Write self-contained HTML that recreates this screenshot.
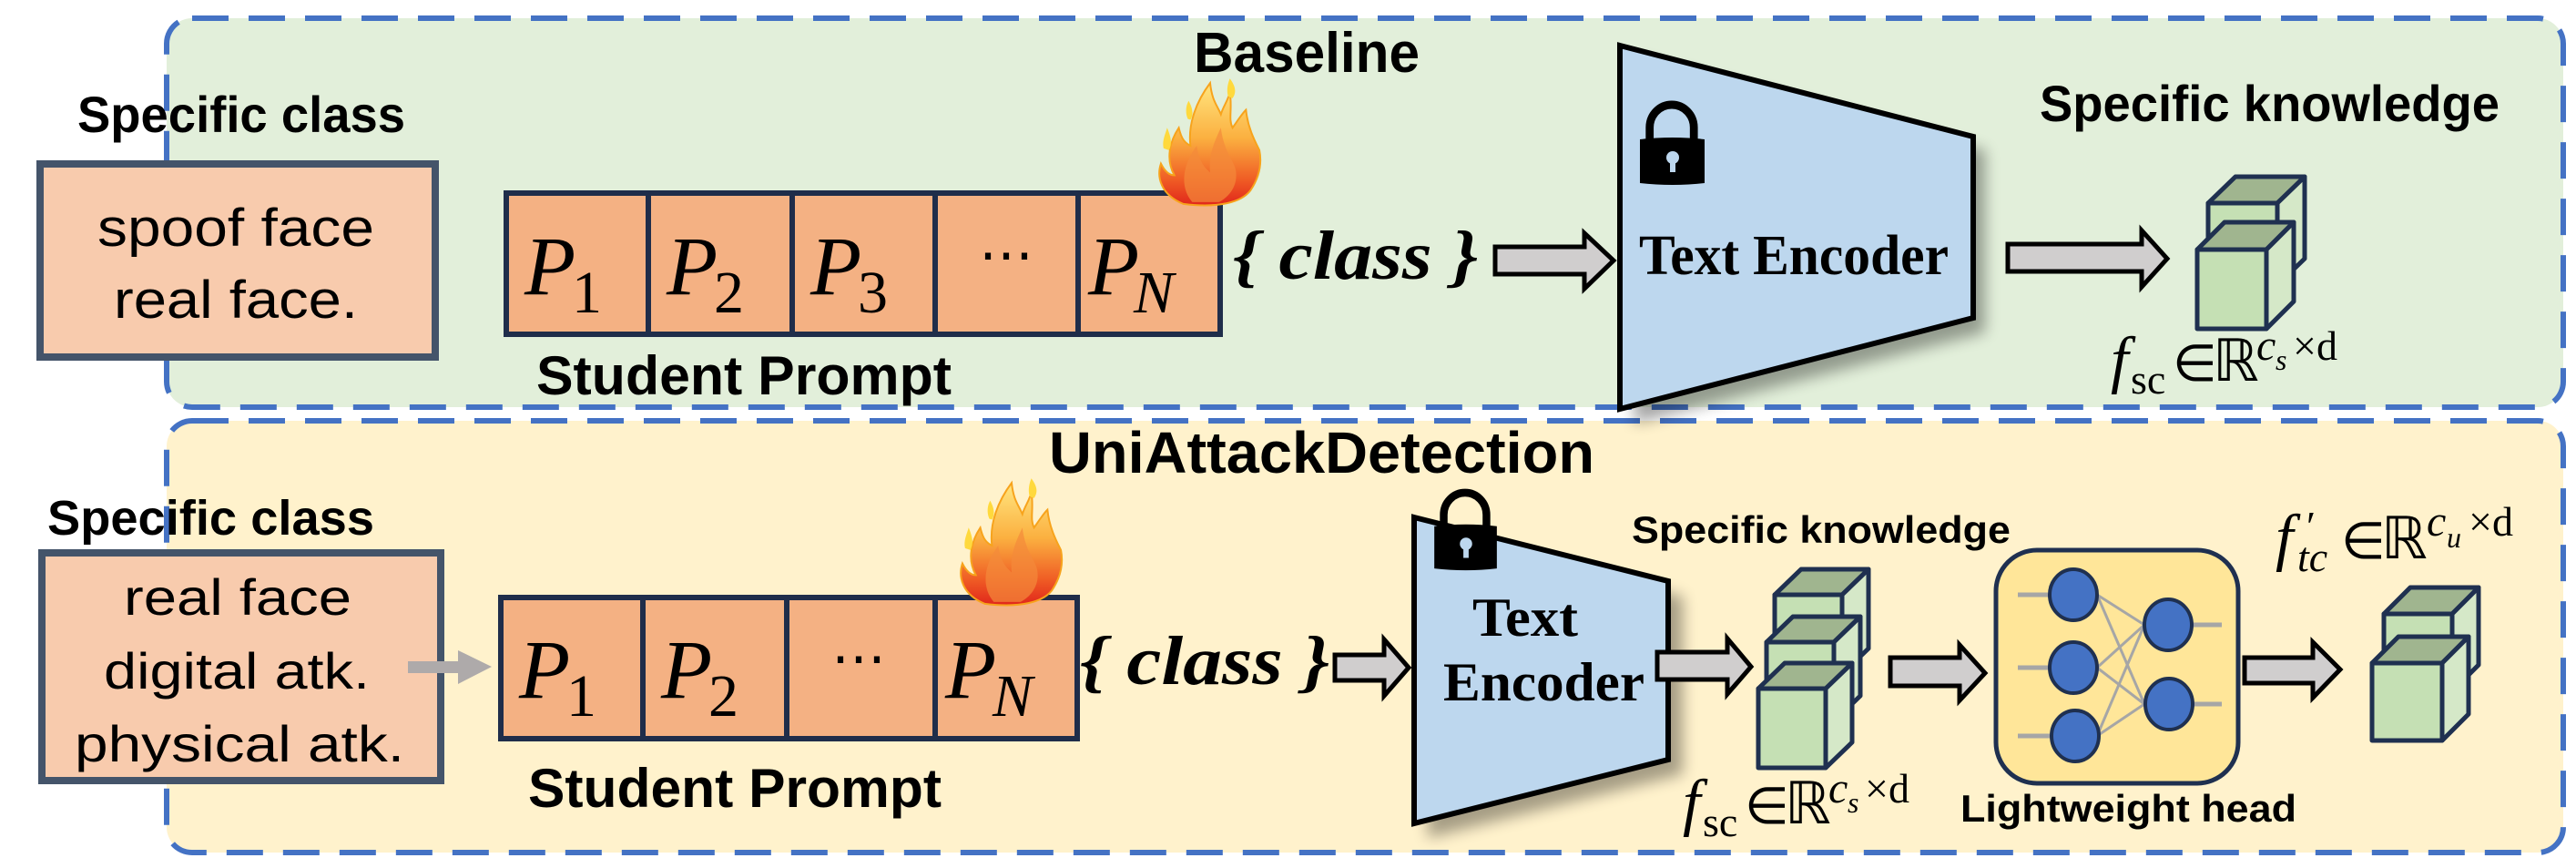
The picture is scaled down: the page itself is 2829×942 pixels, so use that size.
<!DOCTYPE html>
<html><head><meta charset="utf-8"><style>
html,body{margin:0;padding:0;background:#fff;}
svg{display:block;}
.b{font-family:"Liberation Sans",Arial,sans-serif;font-weight:bold;}
.r{font-family:"Liberation Sans",Arial,sans-serif;}
.s{font-family:"Liberation Serif","Times New Roman",serif;}
</style></head><body>
<svg width="2829" height="942" viewBox="0 0 2829 942" xmlns="http://www.w3.org/2000/svg">
<defs>
<linearGradient id="fl" x1="0" y1="0" x2="0" y2="1">
<stop offset="0" stop-color="#ffe680"/><stop offset="0.45" stop-color="#fbb040"/><stop offset="0.8" stop-color="#ef5a24"/><stop offset="1" stop-color="#e0261b"/>
</linearGradient>
<filter id="sh" x="-20%" y="-20%" width="140%" height="140%"><feGaussianBlur stdDeviation="8"/></filter>
<symbol id="flame" viewBox="0 0 120 145" overflow="visible">
<path d="M30 140 C5 130 0 110 5 95 C10 105 15 108 20 108 C10 90 15 70 25 55 C28 68 32 72 38 75 C35 50 45 25 60 5 C62 25 68 30 72 40 C75 30 80 25 82 15 C85 35 80 45 85 55 C90 48 95 40 100 35 C102 55 110 70 115 80 C118 95 115 110 105 125 C95 138 70 145 30 140 Z" fill="url(#fl)" stroke="#f7a31c" stroke-width="2"/>
<path d="M40 138 C25 120 30 95 45 75 C48 95 55 100 60 105 C58 85 65 70 72 55 C75 80 85 90 88 100 C92 115 85 130 70 138 Z" fill="#f48a3a" opacity="0.7"/>
<path d="M8 78 C6 70 10 62 12 55 C16 65 18 72 14 80 Z M35 45 C32 38 33 30 36 25 C40 32 42 40 38 46 Z M80 20 C78 12 80 5 82 0 C88 8 90 15 85 22 Z" fill="#ffd93d"/>
</symbol>
<symbol id="lock" viewBox="0 0 72 92" overflow="visible">
<path d="M10 42 V27 A16 16 0 0 1 60 27 V42" fill="none" stroke="#000" stroke-width="9" transform="translate(1,0) scale(0.97,1)"/>
<path d="M0 40 Q36 36 71 40 V88 Q36 92 0 88 Z" fill="#000"/>
<circle cx="36" cy="60" r="7" fill="#bdd7ee"/><rect x="33" y="62" width="6" height="14" fill="#bdd7ee"/>
</symbol>
</defs>

<rect x="183" y="20" width="2632" height="427" rx="28" fill="#e2efda" stroke="#4472c4" stroke-width="6" stroke-dasharray="40 22"/>
<rect x="183" y="462" width="2632" height="474" rx="28" fill="#fff2cc" stroke="#4472c4" stroke-width="6" stroke-dasharray="40 22"/>

<!-- TOP -->
<text class="b" x="85" y="145" font-size="56" textLength="360" lengthAdjust="spacingAndGlyphs">Specific class</text>
<rect x="44" y="180" width="434" height="212" fill="#f8cbad" stroke="#44546a" stroke-width="8"/>
<text class="r" x="107" y="270" font-size="58" textLength="304" lengthAdjust="spacingAndGlyphs">spoof face</text>
<text class="r" x="125" y="349" font-size="58" textLength="268" lengthAdjust="spacingAndGlyphs">real face.</text>

<text class="b" x="1311" y="79" font-size="62" textLength="248" lengthAdjust="spacingAndGlyphs">Baseline</text>

<g stroke="#1f2d4a" stroke-width="6" fill="#f4b183">
<rect x="556" y="212" width="156" height="155"/><rect x="712" y="212" width="158" height="155"/><rect x="870" y="212" width="157" height="155"/><rect x="1027" y="212" width="157" height="155"/><rect x="1184" y="212" width="156" height="155"/>
</g>
<g class="s" font-style="italic">
<text x="576" y="323" font-size="92">P</text><text x="628" y="343" font-size="66" font-style="normal">1</text>
<text x="732" y="323" font-size="92">P</text><text x="784" y="343" font-size="66" font-style="normal">2</text>
<text x="890" y="323" font-size="92">P</text><text x="942" y="343" font-size="66" font-style="normal">3</text>
<text x="1075" y="300" font-size="60" font-style="normal">⋯</text>
<text x="1195" y="323" font-size="92">P</text><text x="1245" y="343" font-size="66">N</text>
</g>
<use href="#flame" x="1270" y="85" width="118" height="145"/>
<text class="b" x="589" y="433" font-size="60" textLength="456" lengthAdjust="spacingAndGlyphs">Student Prompt</text>
<text class="s" x="1354" y="306" font-size="76" font-weight="bold" font-style="italic" textLength="269" lengthAdjust="spacingAndGlyphs">{ class }</text>

<path d="M1642 271 H1740 V256 L1772 286 L1740 317 V301 H1642 Z" fill="#d0cece" stroke="#000" stroke-width="5"/>

<polygon points="1795,65 2180,165 2180,365 1795,465" fill="#000" opacity="0.35" filter="url(#sh)"/>
<polygon points="1779,50 2167,150 2167,349 1779,449" fill="#bdd7ee" stroke="#000" stroke-width="6"/>
<use href="#lock" x="1801" y="113" width="72" height="92"/>
<text class="s" x="1800" y="301" font-size="62" font-weight="bold" textLength="340" lengthAdjust="spacingAndGlyphs">Text Encoder</text>

<path d="M2205 268 H2352 V253 L2380 284 L2352 315 V298 H2205 Z" fill="#d0cece" stroke="#000" stroke-width="5"/>

<text class="b" x="2240" y="133" font-size="56" textLength="505" lengthAdjust="spacingAndGlyphs">Specific knowledge</text>

<g stroke="#1f3050" stroke-width="5" stroke-linejoin="round">
<polygon points="2425,223 2455,194 2531,194 2501,223" fill="#a0b58f"/><polygon points="2501,223 2531,194 2531,284 2501,313" fill="#d5e8c8"/><rect x="2425" y="223" width="76" height="90" fill="#c5e0b4"/>
<polygon points="2413,274 2443,244 2519,244 2489,274" fill="#a0b58f"/><polygon points="2489,274 2519,244 2519,331 2489,361" fill="#d5e8c8"/><rect x="2413" y="274" width="76" height="87" fill="#c5e0b4"/>
</g>

<g id="fsc" transform="translate(2318,418)" class="s">
<text x="0" y="0" font-size="70" font-style="italic">f</text>
<text x="22" y="14" font-size="46">sc</text>
<text x="68" y="0" font-size="56">∈</text>
<text x="112" y="0" font-size="64">ℝ</text>
<text x="160" y="-23" font-size="48" font-style="italic">c</text>
<text x="181" y="-12" font-size="32" font-style="italic">s</text>
<text x="200" y="-23" font-size="46">×d</text>
</g>

<!-- BOTTOM -->
<text class="b" x="1152" y="519" font-size="64" textLength="599" lengthAdjust="spacingAndGlyphs">UniAttackDetection</text>
<text class="b" x="52" y="587" font-size="54" textLength="359" lengthAdjust="spacingAndGlyphs">Specific class</text>
<rect x="46" y="607" width="438" height="250" fill="#f8cbad" stroke="#44546a" stroke-width="8"/>
<text class="r" x="136" y="675" font-size="56" textLength="250" lengthAdjust="spacingAndGlyphs">real face</text>
<text class="r" x="114" y="756" font-size="56" textLength="292" lengthAdjust="spacingAndGlyphs">digital atk.</text>
<text class="r" x="82" y="836" font-size="56" textLength="362" lengthAdjust="spacingAndGlyphs">physical atk.</text>
<path d="M448 726 H503 V714 L540 732 L503 751 V739 H448 Z" fill="#aeaaaa"/>

<g stroke="#1f2d4a" stroke-width="6" fill="#f4b183">
<rect x="550" y="656" width="156" height="155"/><rect x="706" y="656" width="158" height="155"/><rect x="864" y="656" width="163" height="155"/><rect x="1027" y="656" width="156" height="155"/>
</g>
<g class="s" font-style="italic">
<text x="570" y="766" font-size="92">P</text><text x="622" y="786" font-size="66" font-style="normal">1</text>
<text x="726" y="766" font-size="92">P</text><text x="778" y="786" font-size="66" font-style="normal">2</text>
<text x="913" y="743" font-size="60" font-style="normal">⋯</text>
<text x="1038" y="766" font-size="92">P</text><text x="1090" y="786" font-size="66">N</text>
</g>
<use href="#flame" x="1052" y="524" width="118" height="145"/>
<text class="b" x="580" y="886" font-size="60" textLength="454" lengthAdjust="spacingAndGlyphs">Student Prompt</text>
<text class="s" x="1186" y="751" font-size="76" font-weight="bold" font-style="italic" textLength="274" lengthAdjust="spacingAndGlyphs">{ class }</text>

<path d="M1466 719 H1520 V702 L1547 733 L1520 764 V747 H1466 Z" fill="#d0cece" stroke="#000" stroke-width="5"/>

<polygon points="1568,585 1848,655 1848,850 1568,920" fill="#000" opacity="0.35" filter="url(#sh)"/>
<polygon points="1553,568 1832,638 1832,834 1553,904" fill="#bdd7ee" stroke="#000" stroke-width="6"/>
<use href="#lock" x="1575" y="539" width="70" height="89"/>
<text class="s" x="1617" y="698" font-size="60" font-weight="bold" textLength="116" lengthAdjust="spacingAndGlyphs">Text</text>
<text class="s" x="1585" y="769" font-size="60" font-weight="bold" textLength="221" lengthAdjust="spacingAndGlyphs">Encoder</text>

<path d="M1820 716 H1897 V701 L1923 732 L1897 762 V746 H1820 Z" fill="#d0cece" stroke="#000" stroke-width="5"/>

<text class="b" x="1792" y="596" font-size="42" textLength="416" lengthAdjust="spacingAndGlyphs">Specific knowledge</text>

<g stroke="#1f3050" stroke-width="5" stroke-linejoin="round">
<polygon points="1949,653 1978,625 2052,625 2023,653" fill="#a0b58f"/><polygon points="2023,653 2052,625 2052,712 2023,740" fill="#d5e8c8"/><rect x="1949" y="653" width="74" height="87" fill="#c5e0b4"/>
<polygon points="1940,705 1969,677 2043,677 2014,705" fill="#a0b58f"/><polygon points="2014,705 2043,677 2043,764 2014,792" fill="#d5e8c8"/><rect x="1940" y="705" width="74" height="87" fill="#c5e0b4"/>
<polygon points="1931,756 1960,728 2034,728 2005,756" fill="#a0b58f"/><polygon points="2005,756 2034,728 2034,815 2005,843" fill="#d5e8c8"/><rect x="1931" y="756" width="74" height="87" fill="#c5e0b4"/>
</g>

<use href="#fsc" transform="translate(-470,486)"/>

<path d="M2076 722 H2152 V708 L2180 739 L2152 769 V753 H2076 Z" fill="#d0cece" stroke="#000" stroke-width="5"/>

<rect x="2192" y="604" width="266" height="256" rx="45" fill="#ffe699" stroke="#1f3050" stroke-width="5"/>
<g stroke="#a6a6a6" stroke-width="5">
<line x1="2216" y1="653" x2="2251" y2="653"/><line x1="2216" y1="733" x2="2251" y2="733"/><line x1="2216" y1="808" x2="2251" y2="808"/>
<line x1="2407" y1="686" x2="2440" y2="686"/><line x1="2407" y1="773" x2="2440" y2="773"/>
</g>
<g stroke="#a6a6a6" stroke-width="3">
<line x1="2303" y1="653" x2="2355" y2="686"/><line x1="2303" y1="653" x2="2355" y2="773"/>
<line x1="2303" y1="733" x2="2355" y2="686"/><line x1="2303" y1="733" x2="2355" y2="773"/>
<line x1="2303" y1="808" x2="2355" y2="686"/><line x1="2303" y1="808" x2="2355" y2="773"/>
</g>
<g fill="#4472c4" stroke="#1f3050" stroke-width="4">
<ellipse cx="2277" cy="653" rx="26" ry="28"/><ellipse cx="2277" cy="733" rx="26" ry="28"/><ellipse cx="2279" cy="808" rx="26" ry="28"/>
<ellipse cx="2381" cy="686" rx="26" ry="28"/><ellipse cx="2382" cy="773" rx="26" ry="28"/>
</g>
<text class="b" x="2153" y="902" font-size="42" textLength="369" lengthAdjust="spacingAndGlyphs">Lightweight head</text>

<path d="M2465 722 H2540 V705 L2570 735 L2540 766 V750 H2465 Z" fill="#d0cece" stroke="#000" stroke-width="5"/>

<g stroke="#1f3050" stroke-width="5" stroke-linejoin="round">
<polygon points="2618,674 2647,645 2722,645 2693,674" fill="#a0b58f"/><polygon points="2693,674 2722,645 2722,730 2693,759" fill="#d5e8c8"/><rect x="2618" y="674" width="75" height="85" fill="#c5e0b4"/>
<polygon points="2605,728 2634,699 2711,699 2682,728" fill="#a0b58f"/><polygon points="2682,728 2711,699 2711,784 2682,813" fill="#d5e8c8"/><rect x="2605" y="728" width="77" height="85" fill="#c5e0b4"/>
</g>

<g transform="translate(2499,613)" class="s">
<text x="0" y="0" font-size="70" font-style="italic">f</text>
<text x="34" y="-20" font-size="46">′</text>
<text x="24" y="14" font-size="46" font-style="italic">tc</text>
<text x="72" y="0" font-size="56">∈</text>
<text x="116" y="0" font-size="64">ℝ</text>
<text x="166" y="-25" font-size="48" font-style="italic">c</text>
<text x="188" y="-12" font-size="32" font-style="italic">u</text>
<text x="212" y="-25" font-size="46">×d</text>
</g>
</svg>
</body></html>
